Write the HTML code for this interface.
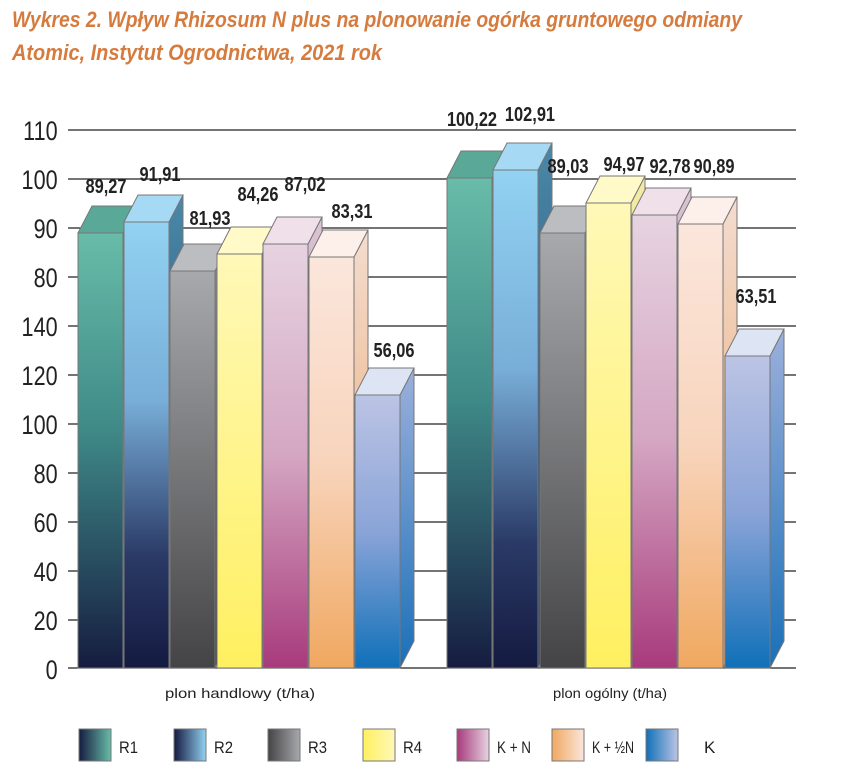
<!DOCTYPE html>
<html><head><meta charset="utf-8"><style>body{margin:0;background:#fff}svg{display:block}text{font-family:"Liberation Sans",sans-serif}</style></head><body>
<svg width="848" height="772" viewBox="0 0 848 772" xmlns="http://www.w3.org/2000/svg">
<defs>
<linearGradient id="g0" x1="0" y1="0" x2="0" y2="1"><stop offset="0" stop-color="#68bca8"/><stop offset="0.45" stop-color="#3f8a88"/><stop offset="1" stop-color="#161c40"/></linearGradient>
<linearGradient id="g1" x1="0" y1="0" x2="0" y2="1"><stop offset="0" stop-color="#92d2f2"/><stop offset="0.4" stop-color="#78aed8"/><stop offset="0.75" stop-color="#2a3a66"/><stop offset="1" stop-color="#141a40"/></linearGradient>
<linearGradient id="g2" x1="0" y1="0" x2="0" y2="1"><stop offset="0" stop-color="#a8a9ac"/><stop offset="1" stop-color="#444446"/></linearGradient>
<linearGradient id="g3" x1="0" y1="0" x2="0" y2="1"><stop offset="0" stop-color="#fff8b8"/><stop offset="1" stop-color="#fff060"/></linearGradient>
<linearGradient id="g4" x1="0" y1="0" x2="0" y2="1"><stop offset="0" stop-color="#e6d3e0"/><stop offset="0.5" stop-color="#d4a6c2"/><stop offset="1" stop-color="#a83a7c"/></linearGradient>
<linearGradient id="g5" x1="0" y1="0" x2="0" y2="1"><stop offset="0" stop-color="#fbe6dc"/><stop offset="0.5" stop-color="#f8d4bc"/><stop offset="1" stop-color="#f0a860"/></linearGradient>
<linearGradient id="g6" x1="0" y1="0" x2="0" y2="1"><stop offset="0" stop-color="#bcc4e4"/><stop offset="0.5" stop-color="#8aa4d8"/><stop offset="1" stop-color="#1070b8"/></linearGradient>
<linearGradient id="l0"><stop offset="0" stop-color="#161c40"/><stop offset="1" stop-color="#68bca8"/></linearGradient>
<linearGradient id="l1"><stop offset="0" stop-color="#141a40"/><stop offset="1" stop-color="#92d2f2"/></linearGradient>
<linearGradient id="l2"><stop offset="0" stop-color="#444446"/><stop offset="1" stop-color="#a8a9ac"/></linearGradient>
<linearGradient id="l3"><stop offset="0" stop-color="#fff060"/><stop offset="1" stop-color="#fff8b8"/></linearGradient>
<linearGradient id="l4"><stop offset="0" stop-color="#a83a7c"/><stop offset="1" stop-color="#e6d3e0"/></linearGradient>
<linearGradient id="l5"><stop offset="0" stop-color="#f0a860"/><stop offset="1" stop-color="#fbe6dc"/></linearGradient>
<linearGradient id="l6"><stop offset="0" stop-color="#1070b8"/><stop offset="1" stop-color="#bcc4e4"/></linearGradient>
</defs>
<g font-style="italic" font-weight="bold" fill="#d67b3e" font-size="22">
<text x="12" y="27" textLength="730" lengthAdjust="spacingAndGlyphs">Wykres 2. Wpływ Rhizosum N plus na plonowanie ogórka gruntowego odmiany</text>
<text x="12" y="60" textLength="370" lengthAdjust="spacingAndGlyphs">Atomic, Instytut Ogrodnictwa, 2021 rok</text>
</g>
<g stroke="#222" stroke-width="1.3">
<line x1="68" y1="130" x2="796" y2="130"/><line x1="68" y1="179" x2="796" y2="179"/><line x1="68" y1="228" x2="796" y2="228"/><line x1="68" y1="277" x2="796" y2="277"/><line x1="68" y1="326" x2="796" y2="326"/><line x1="68" y1="375" x2="796" y2="375"/><line x1="68" y1="424" x2="796" y2="424"/><line x1="68" y1="473" x2="796" y2="473"/><line x1="68" y1="522" x2="796" y2="522"/><line x1="68" y1="571" x2="796" y2="571"/><line x1="68" y1="620" x2="796" y2="620"/><line x1="68" y1="668" x2="796" y2="668"/>
</g>
<g font-size="27" fill="#222" text-anchor="end" transform="scale(0.8,1)">
<text x="72" y="140">110</text><text x="72" y="189">100</text><text x="72" y="238">90</text><text x="72" y="287">80</text><text x="72" y="336">140</text><text x="72" y="385">120</text><text x="72" y="434">100</text><text x="72" y="483">80</text><text x="72" y="532">60</text><text x="72" y="581">40</text><text x="72" y="630">20</text><text x="72" y="679">0</text>
</g>
<g id="bars" stroke="#777" stroke-width="1"></g>
<g font-size="14" fill="#222" text-anchor="middle">
<text x="240" y="698" textLength="150" lengthAdjust="spacingAndGlyphs">plon handlowy (t/ha)</text>
<text x="610" y="698" textLength="114" lengthAdjust="spacingAndGlyphs">plon ogólny (t/ha)</text>
</g>
<g stroke="#777" stroke-width="1">
<rect x="79" y="729" width="32" height="32" fill="url(#l0)"/>
<rect x="174" y="729" width="32" height="32" fill="url(#l1)"/>
<rect x="268" y="729" width="32" height="32" fill="url(#l2)"/>
<rect x="363" y="729" width="32" height="32" fill="url(#l3)"/>
<rect x="457" y="729" width="32" height="32" fill="url(#l4)"/>
<rect x="552" y="729" width="32" height="32" fill="url(#l5)"/>
<rect x="646" y="729" width="32" height="32" fill="url(#l6)"/>
</g>
<g font-size="17" fill="#222">
<text x="119" y="753" textLength="19" lengthAdjust="spacingAndGlyphs">R1</text>
<text x="214" y="753" textLength="19" lengthAdjust="spacingAndGlyphs">R2</text>
<text x="308" y="753" textLength="19" lengthAdjust="spacingAndGlyphs">R3</text>
<text x="403" y="753" textLength="19" lengthAdjust="spacingAndGlyphs">R4</text>
<text x="497" y="753" textLength="34" lengthAdjust="spacingAndGlyphs">K + N</text>
<text x="592" y="753" textLength="42" lengthAdjust="spacingAndGlyphs">K + ½N</text>
<text x="704" y="753">K</text>
</g>
<g id="labels" font-size="20" font-weight="bold" fill="#222" text-anchor="middle"></g>
<script>
(function(){
var ns="http://www.w3.org/2000/svg";
var topc=["#5aa898","#a6daf4","#bcbdc0","#fffac8","#efe0ea","#fdf0ea","#dde4f4"];
var sideG=[["#4a9486","#1a2a48"],["#4a88a8","#18305a"],["#8a8b8e","#3c3c3e"],["#f2eaa6","#f6e060"],["#dcc6d6","#9a3a74"],["#f4dccf","#e6a060"],["#9cb0dc","#1a70b8"]];
var defs=document.querySelector("defs");
sideG.forEach(function(c,i){var g=document.createElementNS(ns,"linearGradient");g.setAttribute("id","s"+i);g.setAttribute("x1","0");g.setAttribute("y1","0");g.setAttribute("x2","0");g.setAttribute("y2","1");
var s1=document.createElementNS(ns,"stop");s1.setAttribute("offset","0");s1.setAttribute("stop-color",c[0]);
var s2=document.createElementNS(ns,"stop");s2.setAttribute("offset","1");s2.setAttribute("stop-color",c[1]);
g.appendChild(s1);g.appendChild(s2);defs.appendChild(g);});
var groups=[{x:[78,124,170,217,263,309,355],t:[233,222,271,254,244,257,395],v:["89,27","91,91","81,93","84,26","87,02","83,31","56,06"],ly:[193,181,225,201,191,218,357],lx:[106,160,210,258,305,352,394]},
{x:[447,493,540,586,632,678,725],t:[178,170,233,203,215,224,356],v:["100,22","102,91","89,03","94,97","92,78","90,89","63,51"],ly:[126,121,173,171,173,173,303],lx:[472,530,568,624,670,714,756]}];
var bars=document.getElementById("bars"),labs=document.getElementById("labels");
var w=45,dx=14,dy=27,b=668;
groups.forEach(function(G){for(var i=0;i<7;i++){var x=G.x[i],t=G.t[i];
var s=document.createElementNS(ns,"polygon");s.setAttribute("points",[x+w,t,x+w+dx,t-dy,x+w+dx,b-dy,x+w,b].join(" "));s.setAttribute("fill","url(#s"+i+")");bars.appendChild(s);
var p=document.createElementNS(ns,"polygon");p.setAttribute("points",[x,t,x+dx,t-dy,x+w+dx,t-dy,x+w,t].join(" "));p.setAttribute("fill",topc[i]);bars.appendChild(p);
var r=document.createElementNS(ns,"rect");r.setAttribute("x",x);r.setAttribute("y",t);r.setAttribute("width",w);r.setAttribute("height",b-t);r.setAttribute("fill","url(#g"+i+")");bars.appendChild(r);
var cx=G.lx[i];
var tx=document.createElementNS(ns,"text");tx.setAttribute("x",cx);tx.setAttribute("y",G.ly[i]);tx.setAttribute("transform","translate("+cx+",0) scale(0.82,1) translate("+(-cx)+",0)");tx.textContent=G.v[i];labs.appendChild(tx);}});
})();
</script>
</svg>
</body></html>
